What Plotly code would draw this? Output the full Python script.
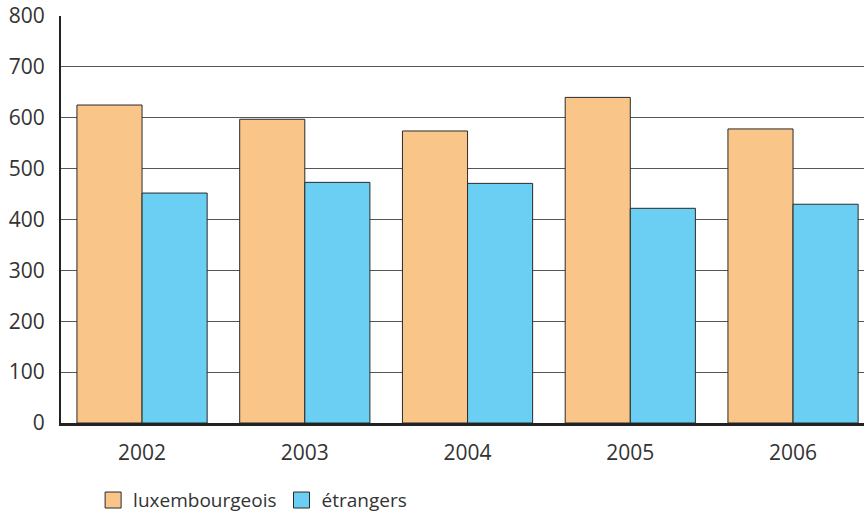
import plotly.graph_objects as go

years = ["2002", "2003", "2004", "2005", "2006"]
luxembourgeois = [625, 597, 574, 640, 578]
etrangers = [452, 473, 471, 422, 430]
y_ticks = [0, 100, 200, 300, 400, 500, 600, 700, 800]

lux_color = "#FAC589"
etr_color = "#6BCFF4"
edge = "#2a2a2a"

fig = go.Figure()
fig.add_trace(go.Bar(
    x=years, y=luxembourgeois, name="luxembourgeois", showlegend=False,
    marker=dict(color=lux_color, line=dict(color=edge, width=1)),
))
fig.add_trace(go.Bar(
    x=years, y=etrangers, name="étrangers", showlegend=False,
    marker=dict(color=etr_color, line=dict(color=edge, width=1)),
))
# legend entries with larger square symbols
for nm, col in [("luxembourgeois", lux_color), ("étrangers", etr_color)]:
    fig.add_trace(go.Scatter(
        x=[None], y=[None], mode="markers", name=nm,
        marker=dict(symbol="square", size=16, color=col, line=dict(color=edge, width=1)),
    ))

fig.update_layout(
    width=864, height=513,
    margin=dict(l=61, r=0, t=16, b=90),
    paper_bgcolor="white", plot_bgcolor="white",
    barmode="group", bargap=0.2, bargroupgap=0,
    font=dict(family="Open Sans, sans-serif", size=21, color="#333333"),
    showlegend=True,
    legend=dict(
        orientation="h", x=0.04, xanchor="left",
        yref="container", y=0.025, yanchor="middle",
        font=dict(size=19, color="#333333"), itemwidth=30, tracegroupgap=0,
    ),
    xaxis=dict(
        range=[-0.498, 4.436],
        showgrid=False, showline=True, linecolor="#222222", linewidth=3,
        ticks="", ticklabelstandoff=9, automargin=False,
    ),
    yaxis=dict(
        range=[0, 800], tickvals=y_ticks, showgrid=True, gridcolor="#555555",
        gridwidth=1, showline=True, linecolor="#222222", linewidth=2,
        ticks="", ticklabelstandoff=10, zeroline=False, automargin=False,
    ),
)

fig.write_html(
    "out.html",
    config={"displayModeBar": False},
    post_script="document.body.style.margin='0';document.body.style.overflow='hidden';",
)
